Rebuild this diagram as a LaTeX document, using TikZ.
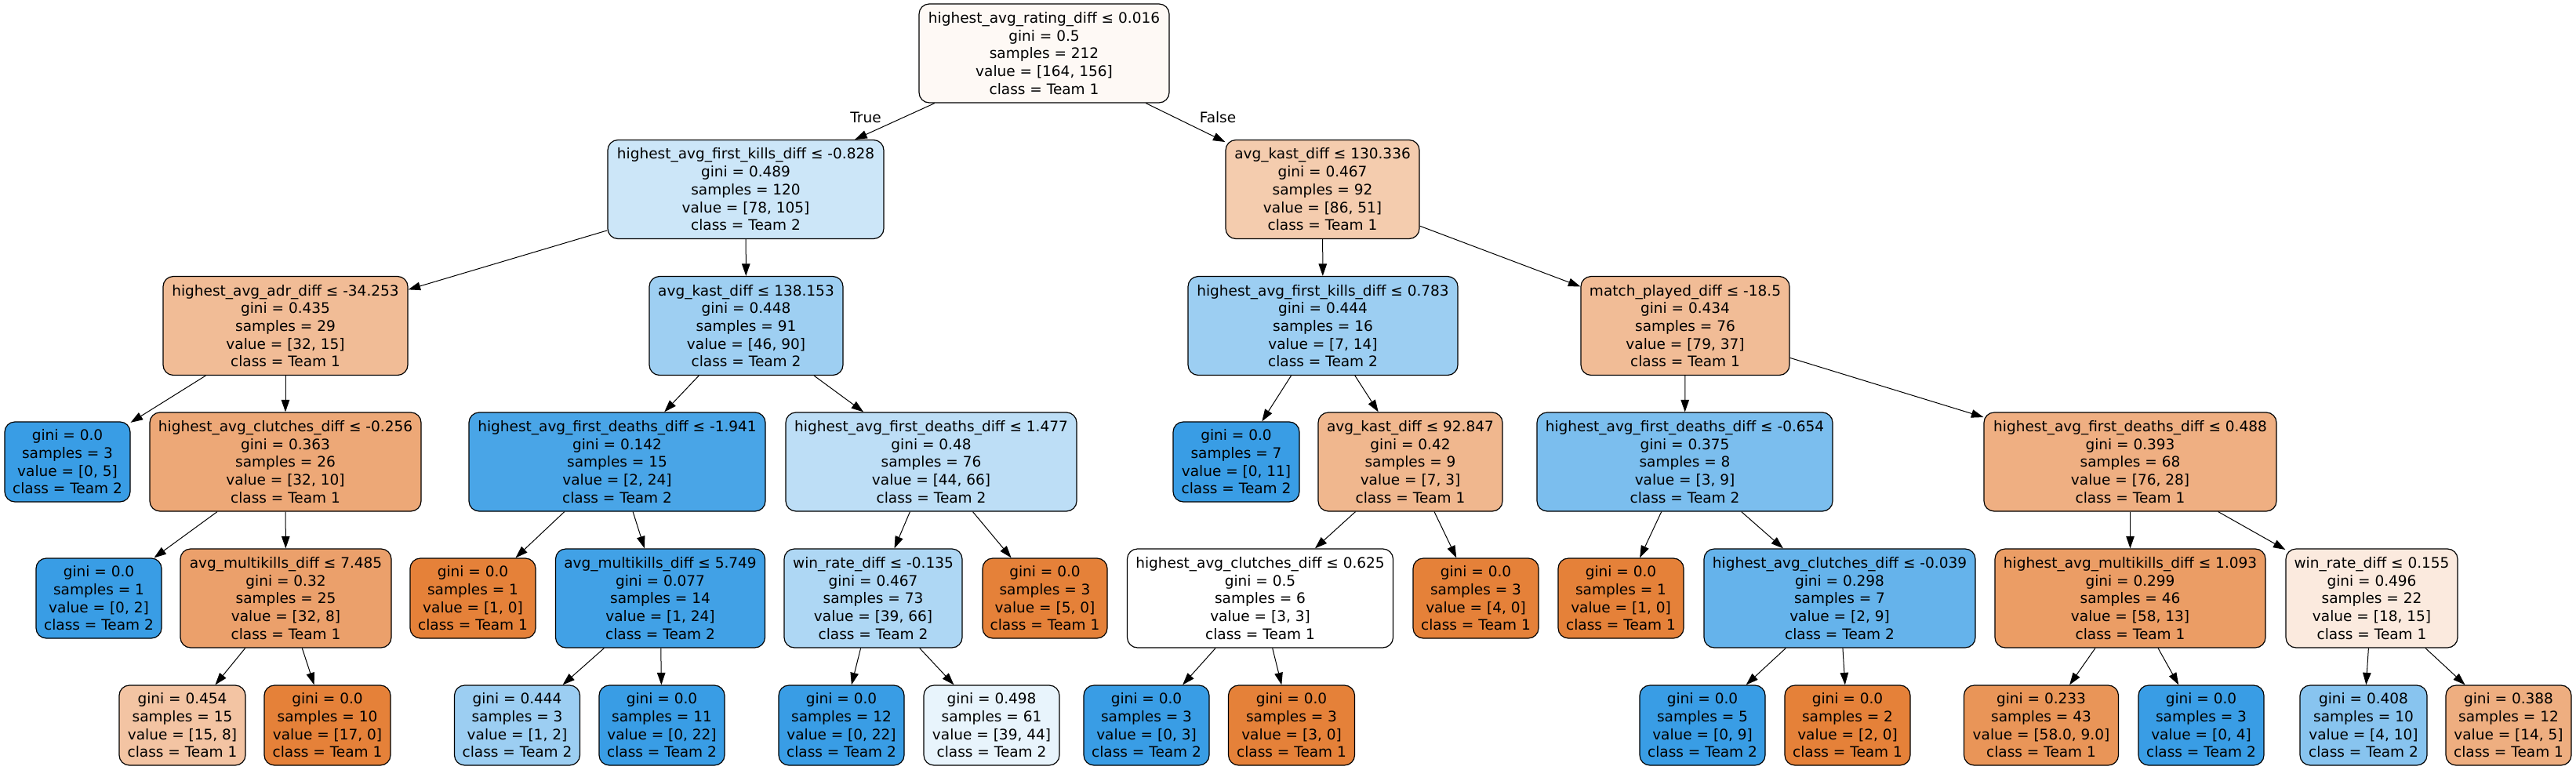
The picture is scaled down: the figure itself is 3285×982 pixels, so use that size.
\documentclass[tikz,border=0pt]{standalone}
\usepackage{fontspec}
\setmainfont{DejaVu Sans}
\usetikzlibrary{arrows.meta}
\definecolor{cO}{HTML}{E58139}
\definecolor{cB}{HTML}{399DE5}
\tikzset{
  tnode/.style={draw=black, rounded corners=13pt, line width=1.2pt, align=center, inner sep=0pt,
    font=\fontsize{18.5pt}{22.7pt}\selectfont},
  inner/.style={tnode, minimum height=126pt},
  leaf/.style={tnode, minimum height=102pt},
  edge/.style={line width=1pt, -{Triangle[length=15.5pt,width=10.5pt]}},
  elab/.style={font=\fontsize{18.5pt}{22.7pt}\selectfont, inner sep=0pt}
}
\begin{document}
\begin{tikzpicture}[x=1pt,y=1pt]
\useasboundingbox (0,0) rectangle (3285,-982);
% Level 0
\node[inner, fill=cO!4.9!white, minimum width=319pt] (r) at (1331.5,-68) {highest\_avg\_rating\_diff ≤ 0.016\\gini = 0.5\\samples = 212\\value = [164, 156]\\class = Team 1};
% Level 1
\node[inner, fill=cB!25.7!white, minimum width=352pt] (n1) at (951,-241.5) {highest\_avg\_first\_kills\_diff ≤ -0.828\\gini = 0.489\\samples = 120\\value = [78, 105]\\class = Team 2};
\node[inner, fill=cO!40.7!white, minimum width=247pt] (n2) at (1686.5,-241.5) {avg\_kast\_diff ≤ 130.336\\gini = 0.467\\samples = 92\\value = [86, 51]\\class = Team 1};
% Level 2
\node[inner, fill=cO!53.1!white, minimum width=312pt] (adr) at (364,-415.5) {highest\_avg\_adr\_diff ≤ -34.253\\gini = 0.435\\samples = 29\\value = [32, 15]\\class = Team 1};
\node[inner, fill=cB!48.9!white, minimum width=247pt] (k138) at (951.5,-415.5) {avg\_kast\_diff ≤ 138.153\\gini = 0.448\\samples = 91\\value = [46, 90]\\class = Team 2};
\node[inner, fill=cB!50!white, minimum width=344pt] (fk783) at (1687,-415.5) {highest\_avg\_first\_kills\_diff ≤ 0.783\\gini = 0.444\\samples = 16\\value = [7, 14]\\class = Team 2};
\node[inner, fill=cO!53.2!white, minimum width=266pt] (mp) at (2149,-415.5) {match\_played\_diff ≤ -18.5\\gini = 0.434\\samples = 76\\value = [79, 37]\\class = Team 1};
% Level 3
\node[leaf, fill=cB, minimum width=160pt] (la) at (86,-589) {gini = 0.0\\samples = 3\\value = [0, 5]\\class = Team 2};
\node[inner, fill=cO!68.75!white, minimum width=346pt] (cl256) at (364,-589) {highest\_avg\_clutches\_diff ≤ -0.256\\gini = 0.363\\samples = 26\\value = [32, 10]\\class = Team 1};
\node[inner, fill=cB!91.7!white, minimum width=378pt] (fd1941) at (787,-589) {highest\_avg\_first\_deaths\_diff ≤ -1.941\\gini = 0.142\\samples = 15\\value = [2, 24]\\class = Team 2};
\node[inner, fill=cB!33.3!white, minimum width=371pt] (fd1477) at (1187.5,-589) {highest\_avg\_first\_deaths\_diff ≤ 1.477\\gini = 0.48\\samples = 76\\value = [44, 66]\\class = Team 2};
\node[leaf, fill=cB, minimum width=161pt] (lb) at (1576.5,-589) {gini = 0.0\\samples = 7\\value = [0, 11]\\class = Team 2};
\node[inner, fill=cO!57.1!white, minimum width=235pt] (k92) at (1798.5,-589) {avg\_kast\_diff ≤ 92.847\\gini = 0.42\\samples = 9\\value = [7, 3]\\class = Team 1};
\node[inner, fill=cB!66.7!white, minimum width=377pt] (fd654) at (2148.5,-589) {highest\_avg\_first\_deaths\_diff ≤ -0.654\\gini = 0.375\\samples = 8\\value = [3, 9]\\class = Team 2};
\node[inner, fill=cO!63.2!white, minimum width=373pt] (fd488) at (2716.5,-589) {highest\_avg\_first\_deaths\_diff ≤ 0.488\\gini = 0.393\\samples = 68\\value = [76, 28]\\class = Team 1};
% Level 4
\node[leaf, fill=cB, minimum width=160pt] (lc) at (126,-763) {gini = 0.0\\samples = 1\\value = [0, 2]\\class = Team 2};
\node[inner, fill=cO!75!white, minimum width=269pt] (mk7485) at (364.5,-763) {avg\_multikills\_diff ≤ 7.485\\gini = 0.32\\samples = 25\\value = [32, 8]\\class = Team 1};
\node[leaf, fill=cO, minimum width=160pt] (ld) at (603,-763) {gini = 0.0\\samples = 1\\value = [1, 0]\\class = Team 1};
\node[inner, fill=cB!95.8!white, minimum width=267pt] (mk5749) at (842,-763) {avg\_multikills\_diff ≤ 5.749\\gini = 0.077\\samples = 14\\value = [1, 24]\\class = Team 2};
\node[inner, fill=cB!40.9!white, minimum width=227pt] (wr135) at (1113.5,-763) {win\_rate\_diff ≤ -0.135\\gini = 0.467\\samples = 73\\value = [39, 66]\\class = Team 2};
\node[leaf, fill=cO, minimum width=159pt] (le) at (1332.5,-763) {gini = 0.0\\samples = 3\\value = [5, 0]\\class = Team 1};
\node[inner, fill=white, minimum width=339pt] (cl625) at (1607,-763) {highest\_avg\_clutches\_diff ≤ 0.625\\gini = 0.5\\samples = 6\\value = [3, 3]\\class = Team 1};
\node[leaf, fill=cO, minimum width=160pt] (lf) at (1882,-763) {gini = 0.0\\samples = 3\\value = [4, 0]\\class = Team 1};
\node[leaf, fill=cO, minimum width=160pt] (lg) at (2067,-763) {gini = 0.0\\samples = 1\\value = [1, 0]\\class = Team 1};
\node[inner, fill=cB!77.8!white, minimum width=346pt] (cl039) at (2346,-763) {highest\_avg\_clutches\_diff ≤ -0.039\\gini = 0.298\\samples = 7\\value = [2, 9]\\class = Team 2};
\node[inner, fill=cO!77.6!white, minimum width=345pt] (hmk) at (2716.5,-763) {highest\_avg\_multikills\_diff ≤ 1.093\\gini = 0.299\\samples = 46\\value = [58, 13]\\class = Team 1};
\node[inner, fill=cO!16.7!white, minimum width=219pt] (wr155) at (3024.5,-763) {win\_rate\_diff ≤ 0.155\\gini = 0.496\\samples = 22\\value = [18, 15]\\class = Team 1};
% Level 5
\node[leaf, fill=cO!46.7!white, minimum width=161pt] (m1) at (232.5,-925) {gini = 0.454\\samples = 15\\value = [15, 8]\\class = Team 1};
\node[leaf, fill=cO, minimum width=161pt] (m2) at (417.5,-925) {gini = 0.0\\samples = 10\\value = [17, 0]\\class = Team 1};
\node[leaf, fill=cB!50!white, minimum width=160pt] (m3) at (659.5,-925) {gini = 0.444\\samples = 3\\value = [1, 2]\\class = Team 2};
\node[leaf, fill=cB, minimum width=160pt] (m4) at (844,-925) {gini = 0.0\\samples = 11\\value = [0, 22]\\class = Team 2};
\node[leaf, fill=cB, minimum width=160pt] (m5) at (1073,-925) {gini = 0.0\\samples = 12\\value = [0, 22]\\class = Team 2};
\node[leaf, fill=cB!11.4!white, minimum width=173pt] (m6) at (1264.5,-925) {gini = 0.498\\samples = 61\\value = [39, 44]\\class = Team 2};
\node[leaf, fill=cB, minimum width=160pt] (m7) at (1462,-925) {gini = 0.0\\samples = 3\\value = [0, 3]\\class = Team 2};
\node[leaf, fill=cO, minimum width=161pt] (m8) at (1647,-925) {gini = 0.0\\samples = 3\\value = [3, 0]\\class = Team 1};
\node[leaf, fill=cB, minimum width=160pt] (m9) at (2171,-925) {gini = 0.0\\samples = 5\\value = [0, 9]\\class = Team 2};
\node[leaf, fill=cO, minimum width=160pt] (m10) at (2356,-925) {gini = 0.0\\samples = 2\\value = [2, 0]\\class = Team 1};
\node[leaf, fill=cO!84.5!white, minimum width=197pt] (m11) at (2603,-925) {gini = 0.233\\samples = 43\\value = [58.0, 9.0]\\class = Team 1};
\node[leaf, fill=cB, minimum width=160pt] (m12) at (2807,-925) {gini = 0.0\\samples = 3\\value = [0, 4]\\class = Team 2};
\node[leaf, fill=cB!60!white, minimum width=162pt] (m13) at (3014,-925) {gini = 0.408\\samples = 10\\value = [4, 10]\\class = Team 2};
\node[leaf, fill=cO!64.3!white, minimum width=160pt] (m14) at (3199,-925) {gini = 0.388\\samples = 12\\value = [14, 5]\\class = Team 1};
% Edges
\draw[edge] (r) -- (n1);
\draw[edge] (r) -- (n2);
\draw[edge] (n1) -- (adr);
\draw[edge] (n1) -- (k138);
\draw[edge] (n2) -- (fk783);
\draw[edge] (n2) -- (mp);
\draw[edge] (adr) -- (la);
\draw[edge] (adr) -- (cl256);
\draw[edge] (k138) -- (fd1941);
\draw[edge] (k138) -- (fd1477);
\draw[edge] (fk783) -- (lb);
\draw[edge] (fk783) -- (k92);
\draw[edge] (mp) -- (fd654);
\draw[edge] (mp) -- (fd488);
\draw[edge] (cl256) -- (lc);
\draw[edge] (cl256) -- (mk7485);
\draw[edge] (fd1941) -- (ld);
\draw[edge] (fd1941) -- (mk5749);
\draw[edge] (fd1477) -- (wr135);
\draw[edge] (fd1477) -- (le);
\draw[edge] (k92) -- (cl625);
\draw[edge] (k92) -- (lf);
\draw[edge] (fd654) -- (lg);
\draw[edge] (fd654) -- (cl039);
\draw[edge] (fd488) -- (hmk);
\draw[edge] (fd488) -- (wr155);
\draw[edge] (mk7485) -- (m1);
\draw[edge] (mk7485) -- (m2);
\draw[edge] (mk5749) -- (m3);
\draw[edge] (mk5749) -- (m4);
\draw[edge] (wr135) -- (m5);
\draw[edge] (wr135) -- (m6);
\draw[edge] (cl625) -- (m7);
\draw[edge] (cl625) -- (m8);
\draw[edge] (cl039) -- (m9);
\draw[edge] (cl039) -- (m10);
\draw[edge] (hmk) -- (m11);
\draw[edge] (hmk) -- (m12);
\draw[edge] (wr155) -- (m13);
\draw[edge] (wr155) -- (m14);
% Edge labels
\node[elab] (tl) at (1104,-150) {True};
\node[elab] (fl) at (1553,-150) {False};
\end{tikzpicture}
\end{document}
